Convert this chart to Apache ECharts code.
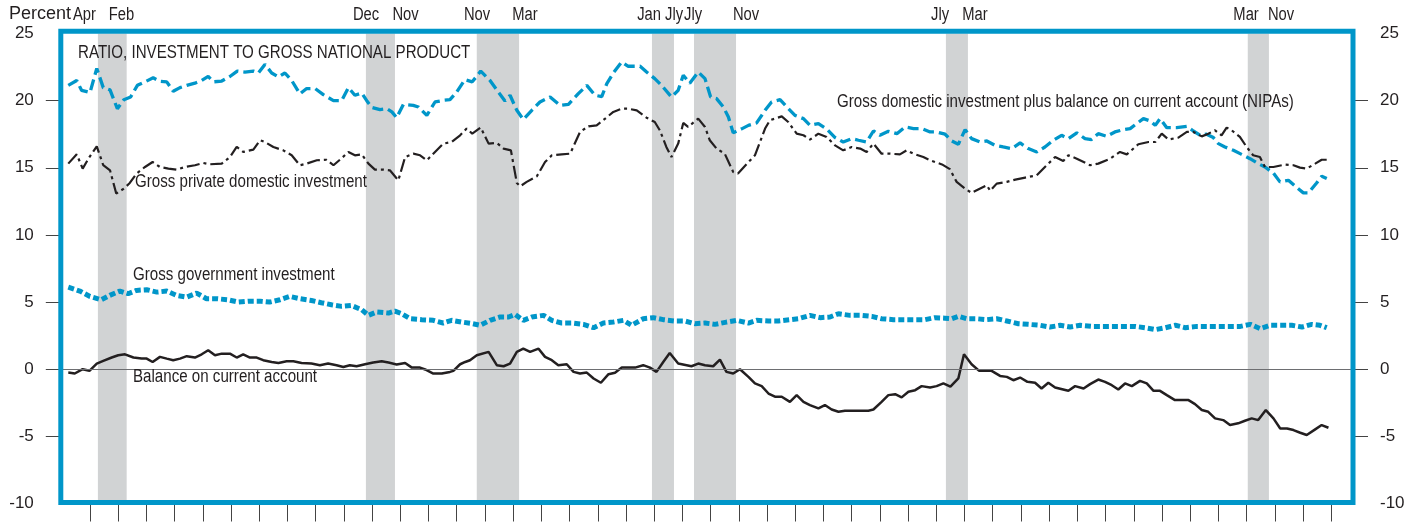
<!DOCTYPE html>
<html><head><meta charset="utf-8">
<script src="https://cdn.jsdelivr.net/npm/echarts@6/dist/echarts.min.js"></script>
<style>html,body{margin:0;padding:0;background:#fff}#c{width:1422px;height:523px}</style>
</head><body><div id="c"></div>
<script>
// ---- DATA ----
// Quarterly-ish vertices: [year, percent of GNP]
const gdiPlusCA = [
[1959.23,21.14],[1959.53,21.5],[1959.70,20.77],[1960.00,20.6],[1960.24,22.4],[1960.47,20.97],[1960.71,20.8],[1960.97,19.4],
[1961.20,20.07],[1961.44,20.27],[1961.68,21.14],[1961.95,21.4],[1962.24,21.7],[1962.48,21.44],[1962.72,21.4],[1962.95,20.7],
[1963.19,20.97],[1963.43,21.14],[1963.72,21.3],[1963.96,21.5],[1964.19,21.8],[1964.37,21.4],[1964.67,21.46],[1964.96,21.8],
[1965.22,22.2],[1965.49,22.13],[1965.79,22.2],[1965.97,22.06],[1966.20,22.7],[1966.44,22.06],[1966.68,21.76],[1966.91,22.06],
[1967.15,21.5],[1967.44,20.5],[1967.68,20.9],[1967.98,20.9],[1968.27,20.45],[1968.63,20.0],[1968.92,20.0],[1969.16,20.97],
[1969.39,20.4],[1969.63,20.57],[1969.81,20.0],[1969.99,19.5],[1970.28,19.33],[1970.52,19.4],[1970.70,19.16],[1970.87,18.73],
[1971.11,19.73],[1971.46,19.65],[1971.64,19.53],[1971.94,18.9],[1972.23,19.9],[1972.52,20.02],[1972.76,20.07],[1973.00,20.65],
[1973.29,21.56],[1973.55,21.4],[1973.85,22.2],[1974.18,21.5],[1974.47,20.65],[1974.71,19.98],[1974.89,20.4],[1975.13,19.28],
[1975.36,18.6],[1975.66,19.28],[1975.95,19.9],[1976.31,20.27],[1976.66,19.65],[1976.96,19.73],[1977.31,20.52],[1977.61,21.14],
[1977.90,20.4],[1978.14,20.3],[1978.32,21.27],[1978.55,22.06],[1978.85,22.88],[1979.08,22.56],[1979.50,22.56],[1979.73,22.13],
[1980.02,21.64],[1980.26,21.14],[1980.61,20.27],[1980.85,20.77],[1981.03,21.89],[1981.26,21.3],[1981.56,22.13],[1981.80,21.64],
[1982.00,20.27],[1982.21,20.15],[1982.45,19.53],[1982.63,18.78],[1982.80,17.6],[1983.10,17.9],[1983.34,18.16],[1983.63,18.34],
[1983.93,19.28],[1984.16,19.9],[1984.46,20.07],[1984.70,19.53],[1984.99,18.9],[1985.29,18.66],[1985.52,18.16],[1985.82,18.29],
[1986.11,17.9],[1986.41,17.25],[1986.70,16.92],[1987.00,17.17],[1987.24,17.05],[1987.53,16.92],[1987.77,17.74],[1988.00,17.42],
[1988.30,17.72],[1988.60,17.54],[1988.89,18.04],[1989.19,17.92],[1989.48,17.92],[1989.78,17.67],[1990.01,17.67],[1990.31,17.5],
[1990.55,17.0],[1990.78,16.75],[1991.02,17.84],[1991.25,17.17],[1991.55,16.92],[1991.79,17.0],[1992.08,16.67],[1992.37,16.55],
[1992.67,16.43],[1992.97,16.85],[1993.26,16.43],[1993.56,16.18],[1993.85,16.55],[1994.15,17.05],[1994.44,17.42],[1994.68,17.17],
[1994.98,17.6],[1995.27,17.17],[1995.50,17.1],[1995.74,17.54],[1996.04,17.34],[1996.33,17.67],[1996.63,17.84],[1996.87,17.92],
[1997.10,18.29],[1997.34,18.66],[1997.58,18.49],[1997.76,18.16],[1997.93,18.66],[1998.17,17.99],[1998.52,17.99],[1998.88,18.09],
[1999.11,17.74],[1999.35,17.42],[1999.58,17.5],[1999.82,17.25],[2000.00,16.8],[2000.23,16.55],[2000.53,16.3],[2000.82,16.0],
[2001.12,15.68],[2001.42,15.3],[2001.65,15.06],[2001.95,14.6],[2002.18,13.95],[2002.48,14.07],[2002.78,13.52],[2003.01,13.13],
[2003.19,13.13],[2003.48,13.87],[2003.66,14.37],[2003.84,14.2]
];
const privateInv = [
[1959.23,15.31],[1959.53,16.0],[1959.74,14.94],[1959.98,15.8],[1960.24,16.6],[1960.47,15.19],[1960.71,14.81],[1960.93,13.08],
[1961.20,13.45],[1961.41,13.87],[1961.65,14.57],[1961.95,15.06],[1962.22,15.43],[1962.48,15.06],[1962.78,14.94],[1963.07,14.86],
[1963.37,15.06],[1963.72,15.19],[1964.02,15.36],[1964.25,15.26],[1964.67,15.31],[1964.96,15.8],[1965.20,16.55],[1965.43,16.18],
[1965.79,16.35],[1966.03,17.05],[1966.20,16.92],[1966.50,16.55],[1966.85,16.3],[1967.15,15.93],[1967.44,15.19],[1967.68,15.31],
[1968.04,15.56],[1968.39,15.6],[1968.63,15.19],[1968.86,15.6],[1969.16,16.18],[1969.39,15.93],[1969.63,16.0],[1969.87,15.31],
[1970.10,14.86],[1970.40,14.86],[1970.63,14.81],[1970.93,14.07],[1971.17,15.8],[1971.46,16.05],[1971.70,15.93],[1971.94,15.56],
[1972.23,16.18],[1972.52,16.8],[1972.82,16.92],[1973.12,17.42],[1973.35,17.92],[1973.55,17.54],[1973.85,18.0],[1974.13,16.8],
[1974.42,16.85],[1974.66,16.43],[1974.92,16.3],[1975.13,13.87],[1975.25,13.62],[1975.48,13.95],[1975.84,14.37],[1976.13,15.43],
[1976.37,15.93],[1976.72,16.0],[1977.02,16.05],[1977.37,17.67],[1977.67,18.09],[1977.96,18.16],[1978.26,18.66],[1978.55,19.16],
[1978.85,19.4],[1979.08,19.4],[1979.38,19.28],[1979.73,18.73],[1980.02,18.41],[1980.20,17.79],[1980.43,16.55],[1980.61,15.8],
[1980.85,16.8],[1981.03,18.34],[1981.20,18.04],[1981.56,18.66],[1981.80,18.04],[1981.97,17.05],[1982.21,16.43],[1982.50,16.05],
[1982.80,14.69],[1982.97,14.57],[1983.27,15.26],[1983.57,15.93],[1983.75,16.92],[1983.93,17.92],[1984.10,18.54],[1984.52,18.83],
[1984.75,18.41],[1985.05,17.54],[1985.29,17.42],[1985.52,17.1],[1985.82,17.54],[1986.11,17.3],[1986.41,16.67],[1986.70,16.3],
[1987.00,16.55],[1987.30,16.43],[1987.53,16.18],[1987.77,16.8],[1988.06,16.05],[1988.36,16.05],[1988.71,16.0],[1988.95,16.3],
[1989.19,16.05],[1989.54,15.8],[1989.84,15.51],[1990.20,15.25],[1990.48,14.9],[1990.72,13.95],[1991.02,13.45],[1991.25,13.13],
[1991.43,13.32],[1991.79,13.7],[1991.91,13.28],[1992.14,13.82],[1992.50,13.95],[1992.80,14.12],[1993.15,14.27],[1993.56,14.44],
[1993.85,15.06],[1994.21,15.8],[1994.50,15.51],[1994.68,15.93],[1994.98,15.68],[1995.45,15.19],[1995.74,15.31],[1996.16,15.68],
[1996.51,16.18],[1996.75,16.0],[1997.16,16.75],[1997.52,16.92],[1997.76,16.92],[1997.99,17.54],[1998.23,17.1],[1998.58,17.25],
[1998.88,17.67],[1999.11,17.67],[1999.41,17.34],[1999.64,17.54],[1999.88,17.79],[2000.11,17.42],[2000.29,17.99],[2000.47,17.79],
[2000.76,17.3],[2001.00,16.55],[2001.23,15.93],[2001.47,15.8],[2001.65,15.06],[2001.95,15.06],[2002.36,15.24],[2002.66,15.19],
[2002.89,15.01],[2003.13,14.94],[2003.43,15.31],[2003.66,15.6],[2003.90,15.6]
];
const governmentInv = [
[1959.23,6.11],[1959.64,5.82],[1960.00,5.42],[1960.40,5.17],[1960.70,5.5],[1961.06,5.82],[1961.35,5.62],[1961.65,5.87],
[1962.01,5.92],[1962.37,5.74],[1962.72,5.82],[1963.07,5.5],[1963.43,5.37],[1963.78,5.67],[1964.13,5.25],[1964.49,5.25],
[1964.90,5.17],[1965.25,5.0],[1965.61,5.07],[1966.02,5.07],[1966.37,5.0],[1966.73,5.17],[1967.08,5.42],[1967.44,5.25],
[1967.85,5.12],[1968.20,4.95],[1968.56,4.8],[1968.92,4.68],[1969.27,4.75],[1969.63,4.43],[1969.87,4.01],[1970.16,4.26],
[1970.58,4.18],[1970.81,4.33],[1971.05,4.13],[1971.35,3.76],[1971.76,3.69],[1972.17,3.64],[1972.52,3.44],[1972.82,3.64],
[1973.18,3.51],[1973.55,3.4],[1973.83,3.27],[1974.18,3.64],[1974.54,3.89],[1974.84,3.89],[1975.07,4.08],[1975.36,3.64],
[1975.66,3.89],[1976.08,4.01],[1976.37,3.64],[1976.72,3.44],[1977.08,3.44],[1977.49,3.34],[1977.85,3.09],[1978.20,3.44],
[1978.55,3.51],[1978.91,3.64],[1979.20,3.27],[1979.61,3.76],[1979.97,3.84],[1980.32,3.69],[1980.73,3.59],[1981.09,3.59],
[1981.44,3.39],[1981.80,3.44],[1982.15,3.34],[1982.56,3.51],[1982.92,3.64],[1983.34,3.44],[1983.63,3.64],[1984.05,3.59],
[1984.40,3.59],[1984.81,3.69],[1985.11,3.76],[1985.52,4.01],[1985.88,3.84],[1986.23,3.89],[1986.53,4.13],[1986.94,4.01],
[1987.35,4.01],[1987.71,3.94],[1988.06,3.76],[1988.48,3.69],[1988.83,3.69],[1989.24,3.69],[1989.60,3.69],[1989.95,3.84],
[1990.30,3.8],[1990.55,3.76],[1990.78,3.94],[1991.08,3.76],[1991.43,3.76],[1991.79,3.69],[1992.14,3.76],[1992.50,3.59],
[1992.91,3.39],[1993.26,3.34],[1993.68,3.27],[1994.03,3.14],[1994.39,3.27],[1994.74,3.14],[1995.10,3.27],[1995.51,3.19],
[1995.93,3.19],[1996.28,3.19],[1996.70,3.19],[1997.05,3.19],[1997.41,3.09],[1997.76,2.95],[1998.12,3.09],[1998.47,3.27],
[1998.83,3.09],[1999.24,3.19],[1999.60,3.19],[2000.01,3.19],[2000.36,3.19],[2000.78,3.19],[2001.13,3.34],[2001.48,3.02],
[2001.84,3.27],[2002.19,3.27],[2002.60,3.27],[2002.96,3.14],[2003.31,3.34],[2003.60,3.27],[2003.84,3.09]
];
const currentAccount = [
[1959.23,-0.25],[1959.46,-0.32],[1959.74,0.0],[1959.98,-0.12],[1960.24,0.42],[1960.47,0.62],[1960.77,0.87],[1961.00,1.04],
[1961.24,1.11],[1961.54,0.87],[1961.83,0.79],[1962.01,0.79],[1962.22,0.54],[1962.48,0.92],[1962.72,0.79],[1962.95,0.67],
[1963.19,0.79],[1963.43,0.97],[1963.72,0.87],[1963.96,1.11],[1964.19,1.41],[1964.43,1.04],[1964.67,1.16],[1964.96,1.16],
[1965.20,0.87],[1965.43,1.11],[1965.67,0.87],[1965.91,0.87],[1966.14,0.67],[1966.44,0.54],[1966.68,0.47],[1966.97,0.59],
[1967.21,0.59],[1967.50,0.47],[1967.85,0.42],[1968.15,0.3],[1968.44,0.42],[1968.74,0.3],[1968.98,0.17],[1969.21,0.3],
[1969.45,0.22],[1969.75,0.37],[1970.04,0.5],[1970.34,0.59],[1970.58,0.5],[1970.87,0.35],[1971.17,0.47],[1971.41,0.12],
[1971.70,0.12],[1971.88,-0.02],[1972.17,-0.32],[1972.47,-0.32],[1972.76,-0.2],[1972.88,-0.12],[1973.12,0.37],[1973.30,0.54],
[1973.47,0.67],[1973.71,1.04],[1974.13,1.29],[1974.42,0.3],[1974.66,0.22],[1974.89,0.42],[1975.13,1.29],[1975.36,1.53],
[1975.60,1.29],[1975.90,1.53],[1976.13,0.92],[1976.37,0.67],[1976.60,0.3],[1976.90,0.37],[1977.14,-0.2],[1977.37,-0.32],
[1977.61,-0.25],[1977.85,-0.69],[1978.11,-1.01],[1978.38,-0.37],[1978.61,-0.27],[1978.85,0.12],[1979.32,0.12],[1979.61,0.3],
[1979.85,0.12],[1980.08,-0.2],[1980.32,0.54],[1980.55,1.21],[1980.85,0.42],[1981.32,0.22],[1981.56,0.42],[1981.80,0.3],
[1982.09,0.22],[1982.33,0.72],[1982.56,-0.2],[1982.80,-0.32],[1983.04,0.0],[1983.34,-0.57],[1983.57,-1.06],[1983.81,-1.26],
[1984.05,-1.81],[1984.28,-2.05],[1984.52,-2.05],[1984.81,-2.43],[1985.05,-1.93],[1985.29,-2.43],[1985.52,-2.67],[1985.82,-2.92],
[1986.05,-2.67],[1986.29,-3.0],[1986.53,-3.17],[1986.76,-3.09],[1987.06,-3.09],[1987.35,-3.09],[1987.59,-3.09],[1987.77,-3.0],
[1988.06,-2.43],[1988.30,-1.93],[1988.54,-1.86],[1988.77,-2.1],[1989.01,-1.68],[1989.25,-1.56],[1989.48,-1.26],[1989.78,-1.36],
[1990.01,-1.26],[1990.25,-1.06],[1990.50,-1.3],[1990.78,-0.69],[1990.98,1.11],[1991.25,0.37],[1991.52,-0.12],[1991.96,-0.12],
[1992.26,-0.5],[1992.50,-0.57],[1992.73,-0.82],[1992.97,-0.62],[1993.23,-0.94],[1993.50,-1.01],[1993.73,-1.44],[1993.97,-1.01],
[1994.21,-1.36],[1994.68,-1.61],[1994.92,-1.26],[1995.22,-1.44],[1995.45,-1.11],[1995.74,-0.77],[1995.98,-0.94],[1996.22,-1.19],
[1996.45,-1.51],[1996.69,-1.06],[1996.93,-1.26],[1997.22,-0.87],[1997.46,-1.06],[1997.70,-1.61],[1997.93,-1.61],[1998.17,-1.93],
[1998.46,-2.3],[1998.94,-2.3],[1999.17,-2.6],[1999.41,-3.04],[1999.64,-3.17],[1999.88,-3.66],[2000.17,-3.79],[2000.41,-4.16],
[2000.70,-4.03],[2000.94,-3.84],[2001.18,-3.66],[2001.41,-3.79],[2001.68,-3.04],[2001.95,-3.66],[2002.19,-4.41],[2002.43,-4.41],
[2002.66,-4.53],[2002.90,-4.73],[2003.13,-4.9],[2003.43,-4.48],[2003.66,-4.16],[2003.90,-4.36]
];
// Recession shading [start, end] in years
const recessions = [[1960.28,1961.30],[1969.78,1970.81],[1973.71,1975.21],[1979.92,1980.70],[1981.41,1982.90],[1990.34,1991.12],[2001.04,2001.79]];
// Recession month labels above the frame: [text, year at label centre]
const recessionLabels = [['Apr',1959.805],['Feb',1961.117],['Dec',1969.784],['Nov',1971.184],['Nov',1973.719],['Mar',1975.42],
  ['Jan',1979.816],['Jly',1980.702],['Jly',1981.376],['Nov',1983.255],['Jly',1990.131],['Mar',1991.372],['Mar',2000.979],['Nov',2002.22]];
const yearTicks = [1960,1961,1962,1963,1964,1965,1966,1967,1968,1969,1970,1971,1972,1973,1974,1975,1976,1977,1978,1979,1980,
  1981,1982,1983,1984,1985,1986,1987,1988,1989,1990,1991,1992,1993,1994,1995,1996,1997,1998,1999,2000,2001,2002,2003,2004];
const yTickMarks = [-5,0,5,10,15,20];
const seriesNames = ['Gross domestic investment plus balance on current account (NIPAs)','Gross private domestic investment','Gross government investment','Balance on current account'];
const chartTitle = 'RATIO, INVESTMENT TO GROSS NATIONAL PRODUCT';
const unitLabel = 'Percent';

// ---- LAYOUT / STYLE ----
const G = {left:60.8, top:33.5, width:1292.2, height:470};
const FRAME = {x:60.8, y:31.3, w:1292.2, h:471.2};
const BLUE = '#0096c9', INK = '#231f20', SHADE = '#d1d3d4';
const REG = '"Liberation Sans", Arial, sans-serif';
const XMIN = 1958.965, XMAX = 2004.77;
const COND = 0.84;   // horizontal condensing of the annotation type

const chart = echarts.init(document.getElementById('c'), null, {renderer:'canvas'});

function yAx(pos){
  return {type:'value', position:pos, min:-10, max:25, interval:5,
    axisLine:{show:false, onZero:false}, splitLine:{show:false},
    axisTick:{show:true, length:15, customValues:yTickMarks, lineStyle:{color:'#444', width:1}},
    axisLabel:{show:true, margin:27, fontSize:17, fontFamily:REG, color:INK}};
}
function textEl(t, x, y, size, align, sx){
  return {type:'text', z:50, silent:true, x:x, y:y, scaleX:sx,
    style:{text:t, x:0, y:0, fill:INK, font:size + 'px ' + REG, align:align, verticalAlign:'middle'}};
}

chart.setOption({
  animation:false,
  backgroundColor:'#fff',
  grid:{left:G.left, top:G.top, width:G.width, height:G.height, show:false, outerBoundsMode:'none', containLabel:false},
  xAxis:[
    {type:'value', position:'bottom', min:XMIN, max:XMAX, axisLine:{show:false, onZero:false}, splitLine:{show:false},
     axisTick:{show:true, length:18, customValues:yearTicks, lineStyle:{color:'#444', width:1}},
     axisLabel:{show:false}}
  ],
  yAxis:[yAx('left'), yAx('right')],
  series:[
    {type:'line', name:'shade', data:[], z:1, silent:true,
     markArea:{silent:true, itemStyle:{color:SHADE}, data:recessions.map(r=>[{xAxis:r[0]},{xAxis:r[1]}])},
     markLine:{silent:true, symbol:['none','none'], label:{show:false}, lineStyle:{color:'#6d6e71', width:1, type:'solid'}, data:[{yAxis:0}]}},
    {type:'line', name:seriesNames[0], data:gdiPlusCA, showSymbol:false, symbol:'none', z:3,
     lineStyle:{color:BLUE, width:3.3, type:[11,5]}},
    {type:'line', name:seriesNames[1], data:privateInv, showSymbol:false, symbol:'none', z:3,
     lineStyle:{color:INK, width:2.2, type:[13,4,3,4]}},
    {type:'line', name:seriesNames[2], data:governmentInv, showSymbol:false, symbol:'none', z:3,
     lineStyle:{color:BLUE, width:5, type:[6,3], cap:'butt'}},
    {type:'line', name:seriesNames[3], data:currentAccount, showSymbol:false, symbol:'none', z:3,
     lineStyle:{color:INK, width:2.5}}
  ]
});

// Text placed after layout; recession labels positioned through the x axis scale
const px = (yr) => chart.convertToPixel({xAxisIndex:0}, yr);
const graphics = [
  {type:'rect', z:100, silent:true, shape:{x:FRAME.x, y:FRAME.y, width:FRAME.w, height:FRAME.h},
   style:{fill:null, stroke:BLUE, lineWidth:5}},
  textEl(unitLabel, 9, 14, 18, 'left', 1),
  textEl(chartTitle, 78, 53, 18, 'left', COND),
  textEl(seriesNames[0], 837, 102, 18, 'left', COND),
  textEl(seriesNames[1], 135, 182, 18, 'left', COND),
  textEl(seriesNames[2], 133, 275, 18, 'left', COND),
  textEl(seriesNames[3], 133, 377, 18, 'left', COND)
];
recessionLabels.forEach(([t, yr]) => graphics.push(textEl(t, px(yr), 15, 18, 'center', 0.82)));
chart.setOption({graphic:graphics});
</script></body></html>
